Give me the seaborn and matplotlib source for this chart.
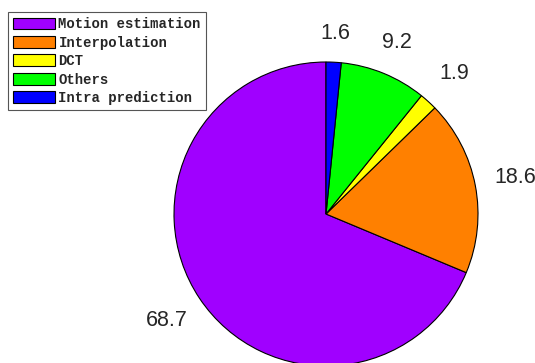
import numpy as np
import matplotlib
matplotlib.use("Agg")
import matplotlib.pyplot as plt
import seaborn as sns

categories = ['Motion estimation', 'Interpolation', 'DCT', 'Others', 'Intra prediction']
shares = [68.7, 18.6, 1.9, 9.2, 1.6]
share_labels = ['68.7', '18.6', '1.9', '9.2', '1.6']
colors = ['#a000ff', '#ff8000', '#ffff00', '#00ff00', '#0000ff']

sns.set_style("white")
plt.rcParams['font.family'] = ['Liberation Sans', 'DejaVu Sans']

fig = plt.figure(figsize=(5.35, 3.63), dpi=100)
# pie centre ~(326,214) px, radius ~152 px
ax = fig.add_axes([174/535, -3/363, 304/535, 304/363])

wedges, texts = ax.pie(shares, labels=share_labels, colors=sns.color_palette(colors),
                       startangle=90, counterclock=True, labeldistance=1.2,
                       wedgeprops=dict(edgecolor='black', linewidth=0.8),
                       textprops=dict(fontsize=15.5), radius=1.0)
ax.set_xlim(-1, 1)
ax.set_ylim(-1, 1)
ax.set_aspect('equal')
ax.axis('off')

# push each label out so its box sits just clear of the rim
for w, t in zip(wedges, texts):
    ang = np.deg2rad((w.theta1 + w.theta2) / 2)
    c, s = np.cos(ang), np.sin(ang)
    d = 1.14 + abs(c) * 0.12 + abs(s) * 0.04
    t.set_position((d * c, d * s))
    t.set_ha('center')
    t.set_va('center')
    t.set_clip_on(False)

leg = fig.legend(wedges, categories, loc='upper left',
                 bbox_to_anchor=(8/535, 1 - 12/363),
                 prop=dict(family='Liberation Mono', weight='bold', size=10.0),
                 handlelength=3.0, handleheight=0.95, handletextpad=0.25,
                 labelspacing=0.32, borderpad=0.38, borderaxespad=0,
                 fancybox=False, framealpha=1, edgecolor='#555555')
leg.get_frame().set_linewidth(0.8)

fig.savefig('out.png', dpi=100)
